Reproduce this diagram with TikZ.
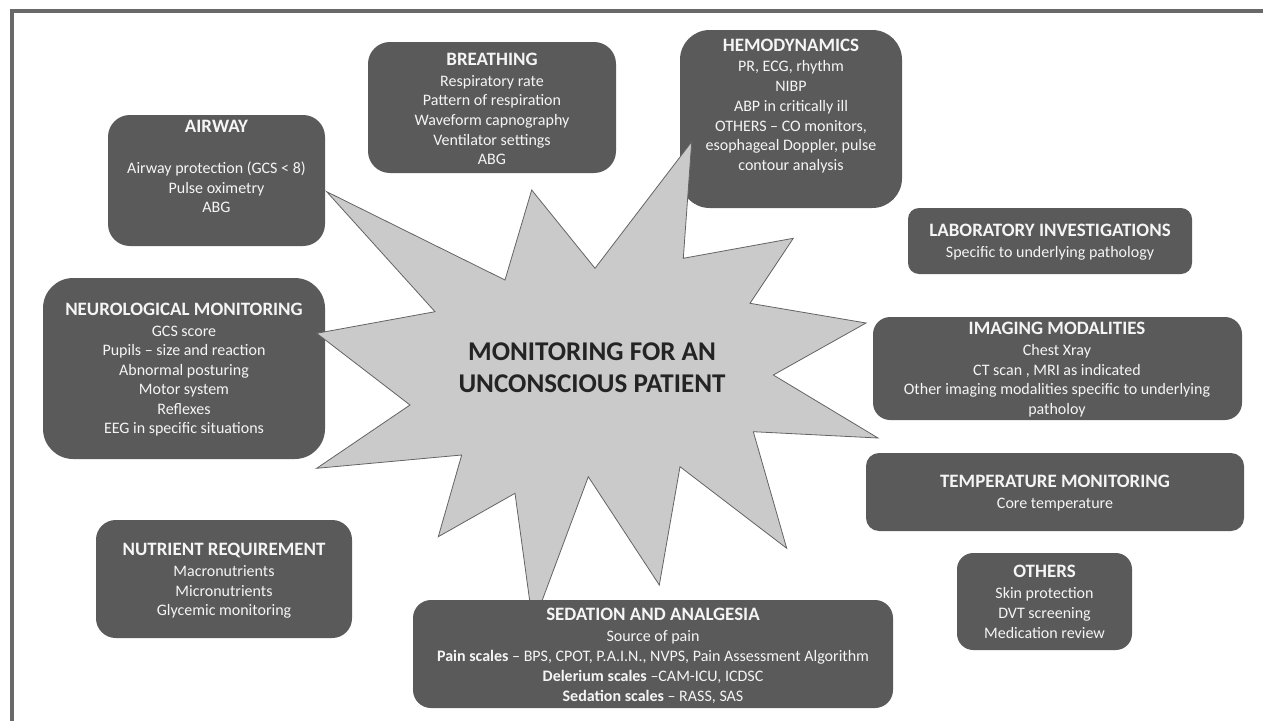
\documentclass[tikz,border=0pt]{standalone}
\usepackage{fontspec}
\setmainfont{Carlito}
\definecolor{boxgray}{RGB}{90,90,90}
\definecolor{burstfill}{RGB}{202,202,202}
\definecolor{burstline}{RGB}{100,100,100}
\definecolor{framegray}{RGB}{105,105,105}
\definecolor{centertxt}{RGB}{36,36,36}
\definecolor{boxtxt}{RGB}{245,245,245}
\newcommand\panelbox[5]{%
  \pgfmathsetmacro\pw{(#4-#2)*0.75}%
  \pgfmathsetmacro\ph{(#5-#3)*0.75}%
  \pgfmathsetmacro\pr{min(\pw,\ph)*0.167}%
  \node[panel, minimum width=\pw pt, minimum height=\ph pt, rounded corners=\pr pt] (#1) at ({(#2+#4)/2},{(#3+#5)/2}) {};}
\newcommand\paneltitle[4]{\node[ttltxt] (#1) at (#2,#3) {#4};}
\newcommand\panellines[5]{%
  \foreach \lntext [count=\lnidx] in {#5} {\node[bodytxt] (#1-\lnidx) at (#2,{#3+(\lnidx-1)*#4}) {\lntext};}}
\begin{document}
\begin{tikzpicture}[x=0.75pt,y=-0.75pt,
  panel/.style={fill=boxgray, draw=none, inner sep=0pt},
  ttltxt/.style={anchor=base, inner sep=0pt, text=boxtxt, font=\fontsize{14.2}{16}\selectfont\bfseries},
  bodytxt/.style={anchor=base, inner sep=0pt, text=boxtxt, font=\fontsize{12}{14}\selectfont},
  centerline/.style={anchor=base, inner sep=0pt, text=centertxt, font=\fontsize{20.3}{24}\selectfont\bfseries},
  burst/.style={fill=burstfill, draw=burstline, line width=0.6pt, line join=miter},
  framel/.style={draw=framegray, line width=2.4pt}]
\useasboundingbox (0,0) rectangle (1263,721);
\fill[white] (0,0) rectangle (1263,721);
\draw[framel] (12,721) -- (12,11) -- (1263,11);

\panelbox{air}{108}{115}{325}{246}
\paneltitle{air-t}{216.5}{132.6}{AIRWAY}
\panellines{air}{216.5}{173.5}{19.5}{{Airway protection (GCS < 8)},{Pulse oximetry},{ABG}}

\panelbox{bre}{368}{42}{616}{173}
\paneltitle{bre-t}{492}{65.2}{BREATHING}
\panellines{bre}{492}{86.2}{19.6}{Respiratory rate,Pattern of respiration,Waveform capnography,Ventilator settings,ABG}

\panelbox{hem}{680}{30}{902}{208}
\paneltitle{hem-t}{791}{51.2}{HEMODYNAMICS}
\panellines{hem}{791}{71.9}{19.7}{{PR, ECG, rhythm},NIBP,ABP in critically ill,{OTHERS – CO monitors,},{esophageal Doppler, pulse},contour analysis}

\panelbox{lab}{908}{208}{1192}{274}
\paneltitle{lab-t}{1050}{236.6}{LABORATORY INVESTIGATIONS}
\panellines{lab}{1050}{257.9}{19.5}{Specific to underlying pathology}

\panelbox{img}{873}{317}{1242}{420}
\paneltitle{img-t}{1057}{334.9}{IMAGING MODALITIES}
\panellines{img}{1057}{355.9}{19.5}{Chest Xray,{CT scan , MRI as indicated},Other imaging modalities specific to underlying,patholoy}

\panelbox{tmp}{866}{453}{1244}{531}
\paneltitle{tmp-t}{1055}{487.6}{TEMPERATURE MONITORING}
\panellines{tmp}{1055}{508.5}{19.5}{Core temperature}

\panelbox{oth}{957}{553}{1132}{650}
\paneltitle{oth-t}{1044.5}{577.6}{OTHERS}
\panellines{oth}{1044.5}{598.5}{20}{Skin protection,DVT screening,Medication review}

\panelbox{neu}{43}{278}{325}{459}
\paneltitle{neu-t}{184}{315.2}{NEUROLOGICAL MONITORING}
\panellines{neu}{184}{336.2}{19.5}{GCS score,Pupils – size and reaction,Abnormal posturing,Motor system,Reflexes,EEG in specific situations}

\panelbox{nut}{96}{520}{352}{638}
\paneltitle{nut-t}{224}{555.2}{NUTRIENT REQUIREMENT}
\panellines{nut}{224}{576.9}{19.5}{Macronutrients,Micronutrients,Glycemic monitoring}

\draw[burst] (326.7,191.7) -- (505,280) -- (531.7,190) -- (595,268.3) -- (691.7,141.7)
  -- (683.3,258.3) -- (793.3,238.3) -- (750,303.3) -- (866,323) -- (773.3,375)
  -- (878,438) -- (753.3,431.7) -- (786.7,548.3) -- (680,466.7) -- (659.3,585)
  -- (588.3,476.7) -- (533,625) -- (515,493.3) -- (438.3,536.7) -- (461.7,455)
  -- (316.7,468.3) -- (410,405) -- (316.7,333.3) -- (435,311.7) -- cycle;
\node[centerline] (c1) at (592,360.4) {MONITORING FOR AN};
\node[centerline] (c2) at (592,392) {UNCONSCIOUS PATIENT};

\panelbox{sed}{413}{600}{893}{708}
\paneltitle{sed-t}{653}{620.9}{SEDATION AND ANALGESIA}
\panellines{sed}{653}{641.9}{19.7}{Source of pain,{\textbf{Pain scales} – BPS, CPOT, P.A.I.N., NVPS, Pain Assessment Algorithm},{\textbf{Delerium scales} –CAM-ICU, ICDSC},{\textbf{Sedation scales} – RASS, SAS}}
\end{tikzpicture}
\end{document}
